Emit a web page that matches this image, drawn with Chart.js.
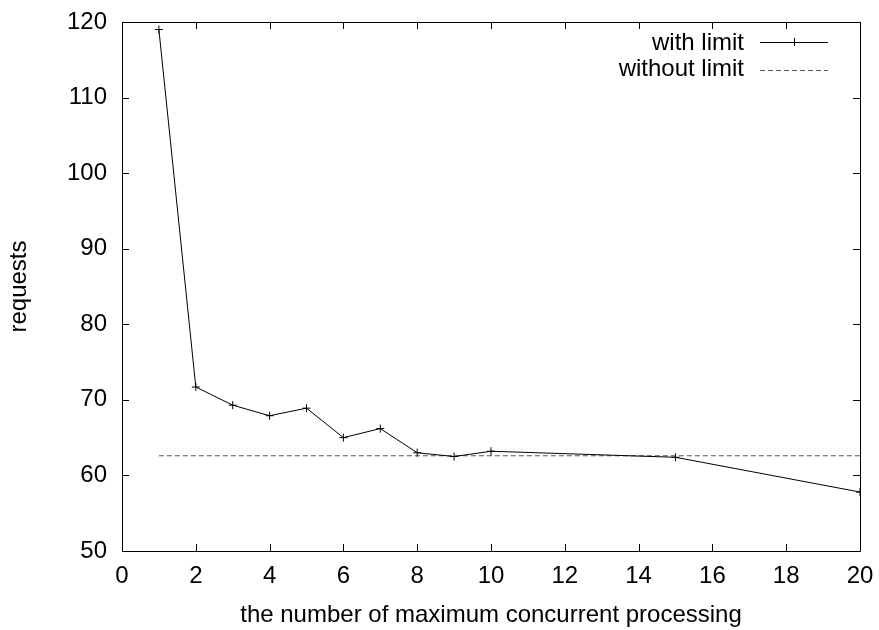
<!DOCTYPE html>
<html>
<head>
<meta charset="utf-8">
<script src="https://cdn.jsdelivr.net/npm/chart.js@4"></script>
<style>
  html, body { margin: 0; padding: 0; background: #fff; }
  #wrap { width: 879px; height: 630px; position: relative; }
</style>
</head>
<body>
<div id="wrap"><canvas id="chart"></canvas></div>
<script>
// concurrency limit vs requests
const limits = [1, 2, 3, 4, 5, 6, 7, 8, 9, 10, 15, 20];
const withLimit = [119.0, 71.7, 69.3, 67.9, 68.9, 65.0, 66.2, 63.0, 62.5, 63.2, 62.4, 57.8];
const withoutLimitRange = [1, 20];
const withoutLimitValue = 62.6;
const seriesNames = ['with limit', 'without limit'];
const xTitle = 'the number of maximum concurrent processing';
const yTitle = 'requests';

const FONT = 'Liberation Sans';
const fontSize = 24;

// gnuplot-ish frame: full box with inward ticks on all four sides
const framePlugin = {
  id: 'frame',
  afterDatasetsDraw(chart) {
    const { ctx, chartArea: a, scales } = chart;
    const len = 7;
    ctx.save();
    ctx.strokeStyle = '#000';
    ctx.lineWidth = 1;
    ctx.beginPath();
    ctx.rect(Math.round(a.left) + 0.5, Math.round(a.top) + 0.5,
      Math.round(a.right - a.left), Math.round(a.bottom - a.top));
    scales.x.ticks.forEach(t => {
      const px = Math.round(scales.x.getPixelForValue(t.value)) + 0.5;
      ctx.moveTo(px, a.bottom); ctx.lineTo(px, a.bottom - len);
      ctx.moveTo(px, a.top); ctx.lineTo(px, a.top + len);
    });
    scales.y.ticks.forEach(t => {
      const py = Math.round(scales.y.getPixelForValue(t.value)) + 0.5;
      ctx.moveTo(a.left, py); ctx.lineTo(a.left + len, py);
      ctx.moveTo(a.right, py); ctx.lineTo(a.right - len, py);
    });
    ctx.stroke();
    ctx.restore();
  }
};

// key in the top right corner: label first, then line sample
const keyPlugin = {
  id: 'key',
  afterDraw(chart) {
    const { ctx, chartArea: a } = chart;
    const textRight = a.right - 116;
    const x0 = a.right - 100, x1 = a.right - 32;
    ctx.save();
    ctx.font = fontSize + 'px "' + FONT + '"';
    ctx.textAlign = 'right';
    ctx.textBaseline = 'alphabetic';
    chart.data.datasets.forEach((ds, i) => {
      const y = a.top + 20 + i * 28;
      ctx.fillStyle = '#000';
      ctx.fillText(ds.label, textRight, y + 8 - i * 2);
      ctx.strokeStyle = ds.borderColor;
      ctx.lineWidth = 1;
      ctx.setLineDash(ds.borderDash || []);
      ctx.beginPath();
      ctx.moveTo(x0, Math.round(y) + 0.5);
      ctx.lineTo(x1, Math.round(y) + 0.5);
      ctx.stroke();
      ctx.setLineDash([]);
      if (ds.pointRadius > 0) {
        const cx = Math.round((x0 + x1) / 2) + 0.5, r = ds.pointRadius;
        ctx.beginPath();
        ctx.moveTo(cx, y - r); ctx.lineTo(cx, y + r);
        ctx.stroke();
      }
    });
    ctx.restore();
  }
};

const tickFont = { family: FONT, size: fontSize };

// fixed axis boxes, no extra room for overhanging end labels
function fixBox(size, key) {
  return s => {
    s[key] = size;
    s.paddingTop = 0; s.paddingBottom = 0;
    s.paddingLeft = 0; s.paddingRight = 0;
  };
}

new Chart(document.getElementById('chart'), {
  type: 'line',
  data: {
    datasets: [
      {
        label: seriesNames[0],
        data: limits.map((x, i) => ({ x, y: withLimit[i] })),
        borderColor: '#000',
        borderWidth: 1,
        pointStyle: 'cross',
        pointRadius: 4,
        pointBorderColor: '#000',
        pointBorderWidth: 1,
        tension: 0
      },
      {
        label: seriesNames[1],
        data: withoutLimitRange.map(x => ({ x, y: withoutLimitValue })),
        borderColor: '#555',
        borderWidth: 1,
        borderDash: [5, 3],
        pointRadius: 0,
        tension: 0
      }
    ]
  },
  options: {
    responsive: true,
    maintainAspectRatio: false,
    animation: false,
    layout: { padding: { top: 22, right: 19, left: 0, bottom: 0 } },
    plugins: { legend: { display: false }, tooltip: { enabled: false } },
    scales: {
      x: {
        type: 'linear',
        min: 0, max: 20,
        afterFit: fixBox(79, 'height'),
        ticks: { stepSize: 2, color: '#000', font: tickFont, padding: 11, maxRotation: 0 },
        grid: { display: false, drawTicks: false },
        border: { display: false },
        title: { display: true, text: xTitle, color: '#000', font: tickFont, padding: { top: 0, bottom: 0 } }
      },
      y: {
        min: 50, max: 120,
        afterFit: fixBox(122, 'width'),
        ticks: { stepSize: 10, color: '#000', font: tickFont, padding: 15 },
        grid: { display: false, drawTicks: false },
        border: { display: false },
        title: { display: true, text: yTitle, color: '#000', font: tickFont, padding: { top: 5, bottom: 0 } }
      }
    }
  },
  plugins: [framePlugin, keyPlugin]
});
</script>
</body>
</html>
